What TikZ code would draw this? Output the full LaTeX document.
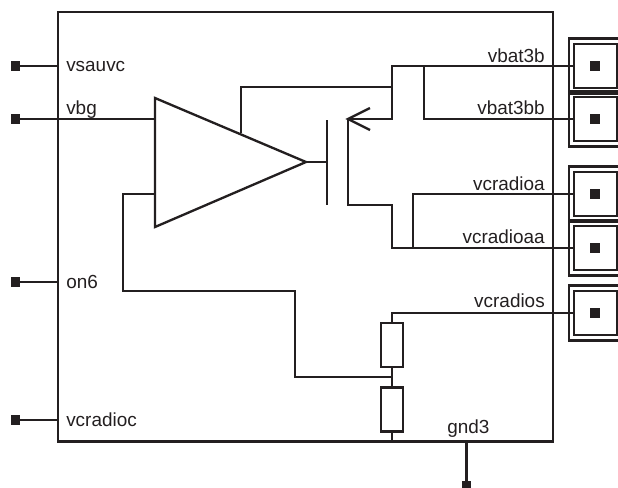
\documentclass[tikz,border=0pt]{standalone}
\usepackage{fontspec}
\setmainfont{Liberation Sans}
\definecolor{ink}{HTML}{231F20}
\tikzset{
  wire/.style={draw=ink,line width=1.75pt,line join=miter},
  pin/.style={fill=ink,draw=none,minimum size=7.2pt,inner sep=0pt,outer sep=0pt,rectangle},
  res/.style={draw=ink,line width=1.75pt,fill=white,rectangle,minimum width=16.5pt,minimum height=33pt,inner sep=0pt,outer sep=0pt},
  padinner/.style={draw=ink,line width=1.75pt,rectangle,minimum width=32.5pt,minimum height=33pt,inner sep=0pt,outer sep=0pt,anchor=west},
  lab/.style={font=\fontsize{14.2pt}{16pt}\selectfont,text=ink,inner sep=0pt},
  labr/.style={lab,anchor=base east},
  labl/.style={lab,anchor=base west}
}
\begin{document}
\begin{tikzpicture}[x=0.75pt,y=-0.75pt]
\useasboundingbox (0,0) rectangle (618,487);
% chip
\node[draw=ink,line width=1.75pt,rectangle,inner sep=0pt,outer sep=0pt,minimum width=371.25pt,minimum height=322pt,anchor=north west] (chip) at (58,12) {};
% pads
\foreach \n/\y in {a/66,b/119,c/194,d/248,e/313}{
  \node[padinner] (pad\n) at (574,\y) {};
  \node[pin] (pin\n) at (595,\y) {};
  \draw[wire] (618,\y-27.5) -- (569,\y-27.5) -- (569,\y+27.5) -- (618,\y+27.5);
}
% left pins
\node[pin] (pl1) at (15.5,66) {};
\node[pin] (pl2) at (15.5,119) {};
\node[pin] (pl3) at (15.5,282) {};
\node[pin] (pl4) at (15.5,420) {};
\node[pin,minimum height=6pt,anchor=north] (pg) at (466.5,481) {};
\coordinate (cl1) at (58,66);
\coordinate (cl3) at (58,282);
\coordinate (cl4) at (58,420);
\coordinate (cg) at (466.5,441);
% amp
\coordinate (ta) at (155,98);
\coordinate (tb) at (155,227);
\coordinate (tc) at (306,162);
\draw[wire,line join=miter] (ta) -- (tc) -- (tb) -- cycle;
\coordinate (gate) at (327,162);
\coordinate (gt) at (327,120);
\coordinate (gb) at (327,205);
\coordinate (src) at (348,119);
\coordinate (drn) at (348,205);
\coordinate (ar1) at (370,108);
\coordinate (ar2) at (370,130);
\coordinate (n66) at (392,66);
\coordinate (n119) at (392,119);
\coordinate (n424a) at (424,66);
\coordinate (n424b) at (424,119);
\coordinate (n205) at (392,205);
\coordinate (n248) at (392,248);
\coordinate (n413a) at (413,194);
\coordinate (n413b) at (413,248);
\coordinate (vbgin) at (155,119);
\coordinate (fbin) at (155,194);
\coordinate (f1) at (123,194);
\coordinate (f2) at (123,291);
\coordinate (f3) at (295,291);
\coordinate (f4) at (295,377);
\coordinate (mid) at (392,377);
\coordinate (r) at (392,313);
\coordinate (gndj) at (392,441);
\coordinate (st) at (241,133);
\coordinate (st2) at (241,87);
\coordinate (st3) at (392,87);
% resistors
\node[res] (r1) at (392,345) {};
\node[res] (r2) at (392,409.5) {};
% connectors
\draw[wire] (pl1) -- (cl1);
\draw[wire] (pl2) -- (vbgin);
\draw[wire] (pl3) -- (cl3);
\draw[wire] (pl4) -- (cl4);
\draw[wire] (cg) -- (pg);
\draw[wire] (tc) -- (gate);
\draw[wire] (gt) -- (gb);
\draw[wire] (st) -- (st2) -- (st3);
\draw[wire] (pada.west) -- (n66) -- (n119) -- (src);
\draw[wire] (ar1) -- (src) -- (ar2);
\draw[wire] (src) -- (drn) -- (n205) -- (n248) -- (padd.west);
\draw[wire] (n424a) -- (n424b) -- (padb.west);
\draw[wire] (padc.west) -- (n413a) -- (n413b);
\draw[wire] (fbin) -- (f1) -- (f2) -- (f3) -- (f4) -- (mid);
\draw[wire] (pade.west) -- (r) -- (r1.north);
\draw[wire] (r1.south) -- (r2.north);
\draw[wire] (r2.south) -- (gndj);
% labels
\node[labr] (t1) at (545,62) {vbat3b};
\node[labr] (t2) at (545,114.5) {vbat3bb};
\node[labr] (t3) at (545,190) {vcradioa};
\node[labr] (t4) at (545,243) {vcradioaa};
\node[labr] (t5) at (545,307) {vcradios};
\node[labl] (t6) at (66,71.5) {vsauvc};
\node[labl] (t7) at (66,114.5) {vbg};
\node[labl] (t8) at (66,288) {on6};
\node[labl] (t9) at (66,426.5) {vcradioc};
\node[labl] (t10) at (447,433) {gnd3};
\end{tikzpicture}
\end{document}
